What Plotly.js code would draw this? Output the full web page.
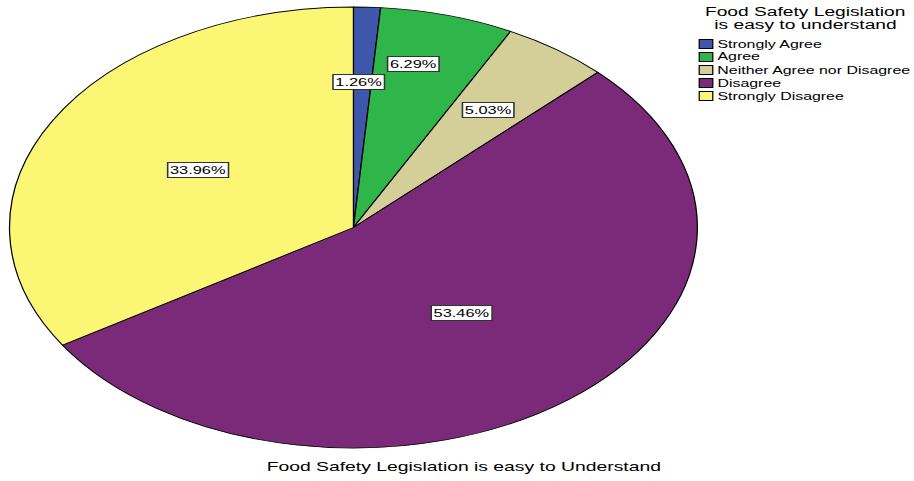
<!DOCTYPE html>
<html><head><meta charset="utf-8">
<script src="https://cdn.plot.ly/plotly-3.0.1.min.js"></script>
<style>
html,body{margin:0;padding:0;background:#fff;overflow:hidden}
#wrap{width:914px;height:481px;overflow:hidden}
#chart{width:586px;height:481px;transform:scaleX(1.5597);transform-origin:0 0}
</style>
</head><body><div id="wrap"><div id="chart"></div></div>
<script>
// ---- data ----
const categories = ["Strongly Agree", "Agree", "Neither Agree nor Disagree", "Disagree", "Strongly Disagree"];
const percentages = [1.26, 6.29, 5.03, 53.46, 33.96];
const sliceColors = ["#3F57AA", "#2FB64A", "#D4CF99", "#7B2A7A", "#FBF775"];
const legendTitleLines = ["Food Safety Legislation", "is easy to understand"];
const chartTitle = "Food Safety Legislation is easy to Understand";

// ---- layout constants (unstretched pixel space) ----
const W = 586, H = 481;
const cx = 226.6, cy = 227.5, R = 220.5;
const labelRadius = [0.66, 0.76, 0.66, 0.50, 0.52];
const labelAngleShift = [-1, -2.6, 0, -0.6, 1.2]; // degrees
const FONT = "Liberation Sans, Arial, sans-serif";

const annotations = [];
const shapes = [];

// slice labels placed along each slice's mid-angle
let cum = 0;
const total = percentages.reduce((a, b) => a + b, 0);
percentages.forEach((p, i) => {
  const mid = (cum + p / 2) / total * 2 * Math.PI + labelAngleShift[i] * Math.PI / 180;
  cum += p;
  const px = cx + R * labelRadius[i] * Math.sin(mid);
  const py = cy - R * labelRadius[i] * Math.cos(mid);
  annotations.push({
    xref: "paper", yref: "paper", x: px / W, y: 1 - py / H,
    xanchor: "center", yanchor: "middle", showarrow: false,
    text: p.toFixed(2) + "%",
    font: {family: FONT, size: 10.5, color: "#000"},
    bgcolor: "#fff", bordercolor: "#333", borderwidth: 1, borderpad: 1
  });
});

// legend title
legendTitleLines.forEach((t, i) => {
  annotations.push({
    xref: "paper", yref: "paper", x: 516 / W, y: 1 - (12 + 13 * i) / H,
    xanchor: "center", yanchor: "middle", showarrow: false, text: t,
    font: {family: FONT, size: 12.3, color: "#000"}
  });
});

// legend entries
categories.forEach((c, i) => {
  const yc = 44 + 13 * i;
  shapes.push({
    type: "rect", xref: "paper", yref: "paper",
    x0: 448.3 / W, x1: 457.0 / W, y0: 1 - (yc - 4.5) / H, y1: 1 - (yc + 4.5) / H,
    fillcolor: sliceColors[i], line: {color: "#000", width: 0.8}
  });
  annotations.push({
    xref: "paper", yref: "paper", x: 457.6 / W, y: 1 - yc / H,
    xanchor: "left", yanchor: "middle", showarrow: false, text: c,
    font: {family: FONT, size: 10.2, color: "#000"}
  });
});

// bottom title
annotations.push({
  xref: "paper", yref: "paper", x: 297.5 / W, y: 1 - 467 / H,
  xanchor: "center", yanchor: "middle", showarrow: false, text: chartTitle,
  font: {family: FONT, size: 12.4, color: "#000"}
});

const trace = {
  type: "pie",
  labels: categories,
  values: percentages,
  sort: false,
  direction: "clockwise",
  rotation: 0,
  textinfo: "none",
  hoverinfo: "label+percent",
  marker: {colors: sliceColors, line: {color: "#000", width: 0.8}},
  domain: {x: [(cx - R) / W, (cx + R) / W], y: [1 - (cy + R) / H, 1 - (cy - R) / H]},
  showlegend: false
};

Plotly.newPlot("chart", [trace], {
  width: W, height: H,
  margin: {l: 0, r: 0, t: 0, b: 0},
  paper_bgcolor: "#fff",
  showlegend: false,
  annotations: annotations,
  shapes: shapes
}, {displayModeBar: false, staticPlot: true});
</script>
</body></html>
